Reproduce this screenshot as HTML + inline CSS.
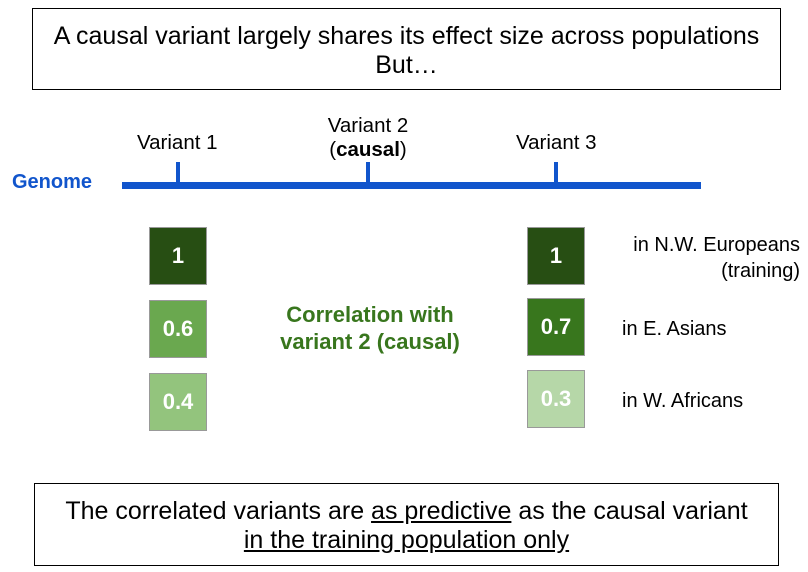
<!DOCTYPE html>
<html><head><meta charset="utf-8"><style>
body{margin:0;width:808px;height:572px;background:#fff;font-family:"Liberation Sans",Arial,sans-serif;position:relative;overflow:hidden}
.abs{position:absolute}
.box{position:absolute;border:1px solid #000;box-sizing:border-box;text-align:center;font-size:25px;line-height:29px;color:#000;white-space:nowrap}
.cell{position:absolute;width:58px;height:58px;box-sizing:border-box;border:1px solid #999;color:#fff;font-weight:bold;font-size:22px;display:flex;align-items:center;justify-content:center}
.lbl{position:absolute;font-size:20.5px;color:#000;white-space:nowrap}
</style></head><body>
<div class="box" style="left:32px;top:8px;width:749px;height:82px;padding-top:13px">A causal variant largely shares its effect size across populations<br>But…</div>
<div class="abs" style="left:12px;top:171px;font-size:20px;font-weight:bold;color:#1155cc">Genome</div>
<svg class="abs" style="left:0;top:0" width="808" height="572">
<rect x="122" y="182" width="579" height="7" fill="#1155cc"/>
<rect x="176" y="162" width="4" height="22" fill="#1155cc"/>
<rect x="366" y="162" width="4" height="22" fill="#1155cc"/>
<rect x="554" y="162" width="4" height="22" fill="#1155cc"/>
</svg>
<div class="lbl" style="left:137px;top:131px">Variant 1</div>
<div class="lbl" style="left:288px;top:114px;width:160px;text-align:center;line-height:24px">Variant 2<br>(<b>causal</b>)</div>
<div class="lbl" style="left:516px;top:131px">Variant 3</div>
<div class="cell" style="left:149px;top:227px;background:#274e13">1</div>
<div class="cell" style="left:149px;top:300px;background:#6aa84f">0.6</div>
<div class="cell" style="left:149px;top:373px;background:#93c47d">0.4</div>
<div class="cell" style="left:527px;top:227px;background:#274e13">1</div>
<div class="cell" style="left:527px;top:298px;background:#38761d">0.7</div>
<div class="cell" style="left:527px;top:370px;background:#b6d7a8">0.3</div>
<div class="abs" style="left:237px;top:301px;width:266px;text-align:center;color:#38761d;font-weight:bold;font-size:22px;line-height:27px">Correlation with<br>variant 2 (causal)</div>
<div class="lbl" style="left:620px;top:232px;width:180px;text-align:right;line-height:26px;font-size:20px">in N.W. Europeans<br>(training)</div>
<div class="lbl" style="left:622px;top:318px;font-size:20px">in E. Asians</div>
<div class="lbl" style="left:622px;top:390px;font-size:20px">in W. Africans</div>
<div class="box" style="left:34px;top:483px;width:745px;height:83px;padding-top:13px">The correlated variants are <u>as predictive</u> as the causal variant<br><u>in the training population only</u></div>
</body></html>
